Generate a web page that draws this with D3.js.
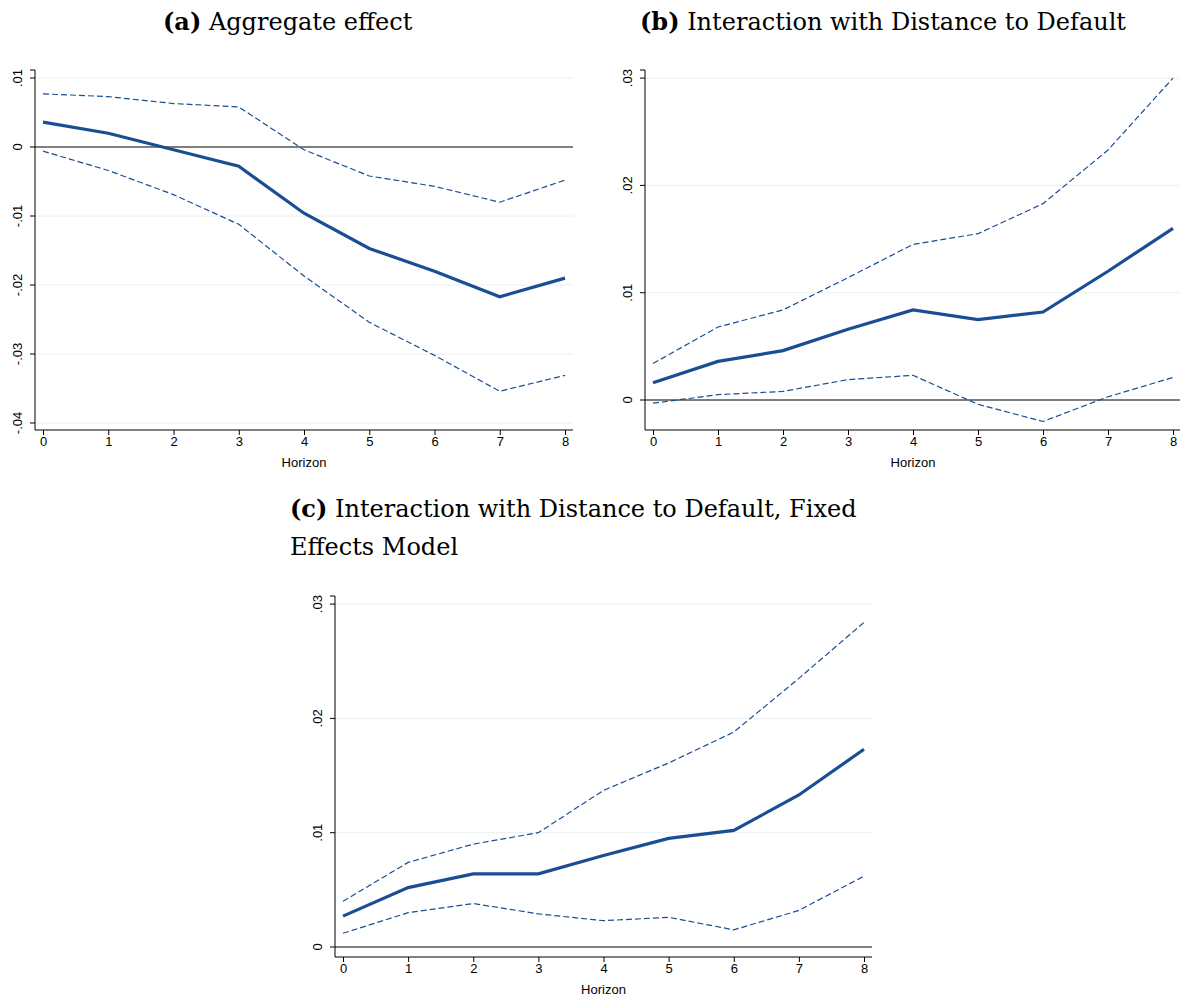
<!DOCTYPE html>
<html><head><meta charset="utf-8">
<script src="https://cdn.jsdelivr.net/npm/d3@7"></script>
<style>body{margin:0;background:#fff}</style></head>
<body><svg id="c" width="1182" height="998"></svg>
<script>
const horizons=[0,1,2,3,4,5,6,7,8];
const aMain=[.0036,.002,-.0004,-.0028,-.0096,-.0147,-.018,-.0217,-.019];
const aUp=[.0077,.0073,.0063,.0058,-.0004,-.0042,-.0057,-.008,-.0048];
const aLo=[-.0006,-.0034,-.0069,-.0112,-.0187,-.0254,-.0302,-.0354,-.0331];
const aTicks=[.01,0,-.01,-.02,-.03,-.04];
const aLabels=[".01","0","-.01","-.02","-.03","-.04"];
const bMain=[.0016,.0036,.0046,.0066,.0084,.0075,.0082,.012,.016];
const bUp=[.0034,.0068,.0084,.0114,.0145,.0155,.0183,.0233,.030];
const bLo=[-.0003,.0005,.0008,.0019,.0023,-.0004,-.002,.0003,.0021];
const bTicks=[0,.01,.02,.03];
const bLabels=["0",".01",".02",".03"];
const cMain=[.0027,.0052,.0064,.0064,.008,.0095,.0102,.0133,.0173];
const cUp=[.004,.0074,.009,.01,.0137,.0161,.0188,.0235,.0284];
const cLo=[.0012,.003,.0038,.0029,.0023,.0026,.0015,.0032,.0062];
const cTicks=[0,.01,.02,.03];
const cLabels=["0",".01",".02",".03"];
const svg=d3.select("#c");
const blue="#1a4e94";
function panel(o){
  const g=svg.append("g");
  const x=d3.scaleLinear().domain([0,8]).range([o.x0,o.x1]);
  const y=d3.scaleLinear().domain(o.dom).range(o.rng);
  // grid
  o.ticks.forEach(t=>{ if(t!==0) g.append("line").attr("x1",o.ax).attr("x2",o.right).attr("y1",y(t)).attr("y2",y(t)).attr("stroke","#eaf0f2").attr("stroke-width",1);});
  // zero line
  g.append("line").attr("x1",o.ax).attr("x2",o.right).attr("y1",y(0)).attr("y2",y(0)).attr("stroke","#000").attr("stroke-width",1.2);
  const ya=d3.axisLeft(y).tickValues(o.ticks).tickFormat((d,i)=>o.labels[i]).tickSize(5);
  const yg=g.append("g").attr("transform",`translate(${o.ax},0)`).call(ya);
  yg.select(".domain").attr("d",`M-5,${o.top}H0V${o.bot}`).attr("stroke","#000");
  yg.selectAll("text").attr("transform",null).attr("x",null).attr("dy",null).attr("font-family","Liberation Sans, Arial").attr("font-size",13).attr("fill","#000")
    .attr("text-anchor","middle").attr("transform",d=>`translate(-13,${y(d)}) rotate(-90)`).attr("y",0);
  yg.selectAll(".tick").attr("transform",null);
  yg.selectAll(".tick line").attr("y1",d=>y(d)).attr("y2",d=>y(d)).attr("x2",-5);
  const xa=d3.axisBottom(x).tickValues(horizons).tickSize(5);
  const xg=g.append("g").attr("transform",`translate(0,${o.bot})`).call(xa);
  xg.select(".domain").attr("d",`M${o.ax},0H${o.right}`).attr("stroke","#000");
  xg.selectAll("text").attr("font-family","Liberation Sans, Arial").attr("font-size",13).attr("fill","#000").attr("dy","0.6em");
  g.append("text").attr("x",(o.x0+o.x1)/2).attr("y",o.bot+37).attr("text-anchor","middle").attr("font-family","Liberation Sans, Arial").attr("font-size",13).text("Horizon");
  const line=d3.line().x((d,i)=>x(horizons[i])).y(d=>y(d));
  [o.up,o.lo].forEach(s=>g.append("path").attr("d",line(s)).attr("fill","none").attr("stroke",blue).attr("stroke-width",1.2).attr("stroke-dasharray","6,3"));
  g.append("path").attr("d",line(o.main)).attr("fill","none").attr("stroke",blue).attr("stroke-width",3.2);
}
panel({x0:43,x1:565,ax:35,right:573,top:70,bot:430,dom:[0,.01],rng:[147,78],ticks:aTicks,labels:aLabels,main:aMain,up:aUp,lo:aLo});
panel({x0:653,x1:1173,ax:645,right:1180,top:70,bot:430,dom:[0,.01],rng:[400,292.7],ticks:bTicks,labels:bLabels,main:bMain,up:bUp,lo:bLo});
panel({x0:343,x1:864,ax:335,right:872,top:596,bot:957,dom:[0,.01],rng:[947,832.7],ticks:cTicks,labels:cLabels,main:cMain,up:cUp,lo:cLo});
function title(x,y,b,rest){
  const t=svg.append("text").attr("x",x).attr("y",y).attr("font-family","DejaVu Serif, Liberation Serif").attr("font-size",24);
  t.append("tspan").attr("font-weight","bold").text(b);
  t.append("tspan").text(" "+rest);
}
title(163,30,"(a)","Aggregate effect");
title(640,30,"(b)","Interaction with Distance to Default");
title(290,517,"(c)","Interaction with Distance to Default, Fixed");
svg.append("text").attr("x",290).attr("y",555).attr("font-family","DejaVu Serif, Liberation Serif").attr("font-size",24).text("Effects Model");
</script></body></html>
